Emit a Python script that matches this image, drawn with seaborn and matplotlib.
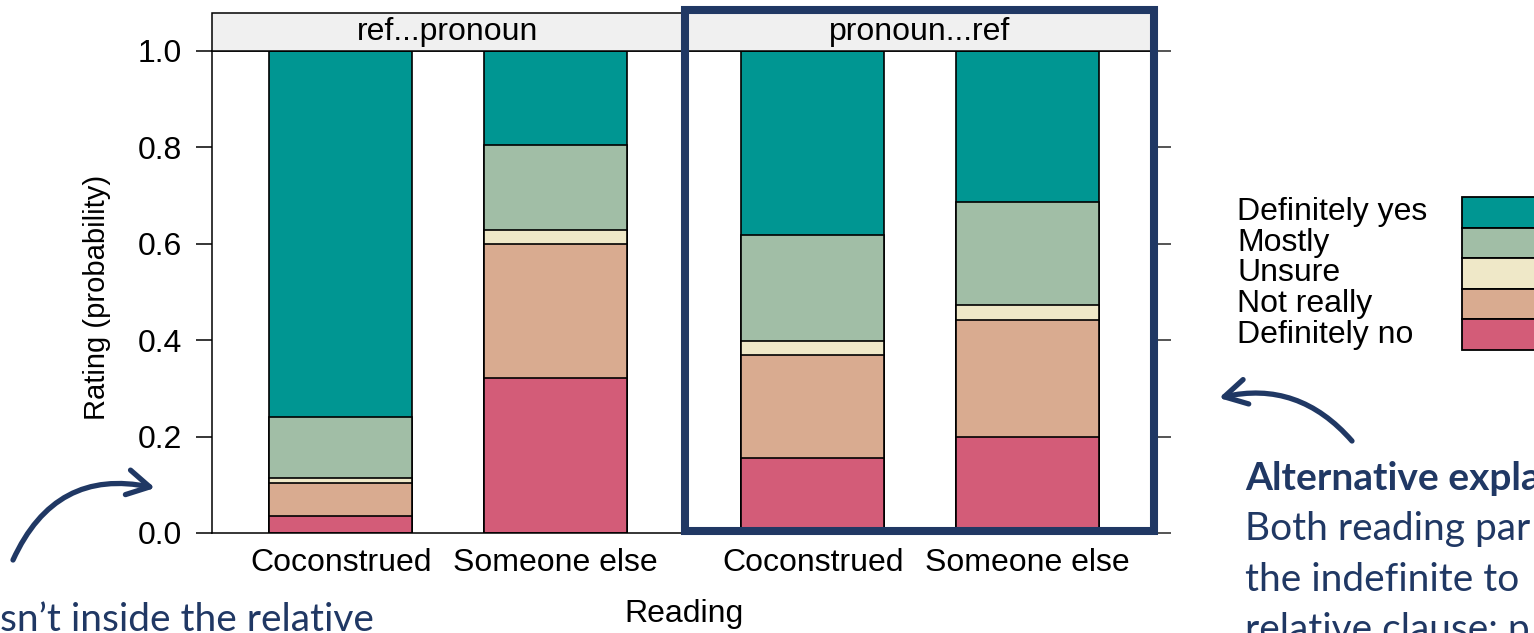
import numpy as np
import pandas as pd
import matplotlib
matplotlib.use("Agg")
import matplotlib.pyplot as plt
from matplotlib.patches import Rectangle, FancyArrowPatch
import seaborn as sns

# ---- data -------------------------------------------------------------
panels = ["ref...pronoun", "pronoun...ref"]
readings = ["Coconstrued", "Someone else"]
levels = ["Definitely no", "Not really", "Unsure", "Mostly", "Definitely yes"]
level_colors = ["#D35C78", "#D9AB90", "#EFE8C8", "#A1BEA6", "#009692"]

# probability of each rating level, bottom (Definitely no) to top (Definitely yes)
ref_pronoun_coconstrued = [0.035, 0.068, 0.012, 0.126, 0.759]
ref_pronoun_someone_else = [0.322, 0.278, 0.029, 0.176, 0.195]
pronoun_ref_coconstrued = [0.155, 0.214, 0.029, 0.220, 0.382]
pronoun_ref_someone_else = [0.200, 0.242, 0.032, 0.213, 0.313]

y_ticks = [0.0, 0.2, 0.4, 0.6, 0.8, 1.0]

# ---- long-form table with cumulative heights for stacking --------------
series = {
    (panels[0], readings[0]): ref_pronoun_coconstrued,
    (panels[0], readings[1]): ref_pronoun_someone_else,
    (panels[1], readings[0]): pronoun_ref_coconstrued,
    (panels[1], readings[1]): pronoun_ref_someone_else,
}
rows = []
for (panel, reading), probs in series.items():
    for lev, p in zip(levels, probs):
        rows.append({"panel": panel, "reading": reading, "level": lev, "prob": p})
df = pd.DataFrame(rows)
df["cum"] = df.groupby(["panel", "reading"])["prob"].cumsum()

# ---- styling ----------------------------------------------------------
sns.set_theme(style="ticks")
plt.rcParams["font.family"] = ["Liberation Sans", "DejaVu Sans"]
plt.rcParams["axes.linewidth"] = 1.1
plt.rcParams["axes.edgecolor"] = "black"

W, H = 1534, 633
fig = plt.figure(figsize=(W / 100, H / 100), dpi=100)
fig.patch.set_facecolor("white")

def fx(px):
    return px / W

def fy(py):
    return 1 - py / H

ax_bottom, ax_top = 533, 51
ax_h = (ax_bottom - ax_top) / H
ax1 = fig.add_axes([fx(212), fy(ax_bottom), (684 - 212) / W, ax_h])
ax2 = fig.add_axes([fx(684), fy(ax_bottom), (1156 - 684) / W, ax_h], sharey=ax1)
axes = [ax1, ax2]

navy = "#203864"
tick_fs = 23

for ax, panel in zip(axes, panels):
    sub = df[df["panel"] == panel]
    # draw from the tallest cumulative layer down so each lower layer overlays
    for lev, col in reversed(list(zip(levels, level_colors))):
        d = sub[sub["level"] == lev]
        sns.barplot(data=d, x="reading", y="cum", order=readings, color=col,
                    saturation=1, width=0.665, edgecolor="black",
                    linewidth=1.2, errorbar=None, ax=ax)
    ax.set_xlim(-0.6, 1.6)
    ax.set_ylim(0, 1)
    ax.set_xlabel("")
    ax.set_ylabel("")
    ax.set_facecolor("white")
    for s in ax.spines.values():
        s.set_visible(True)
        s.set_color("black")
        s.set_linewidth(1.1)
    ax.tick_params(axis="x", length=0, pad=11, labelsize=tick_fs, colors="black")
    # strip header
    strip_h = (ax_top - 13) / (ax_bottom - ax_top)
    ax.add_patch(Rectangle((0, 1), 1, strip_h, transform=ax.transAxes,
                           facecolor="#F0F0F0", edgecolor="black", lw=1.1,
                           clip_on=False, zorder=5))
    ax.text(0.5, 1 + strip_h / 2, panel, transform=ax.transAxes, ha="center",
            va="center", fontsize=tick_fs, color="black", zorder=6)

ax1.set_yticks(y_ticks)
ax1.set_yticklabels([f"{v:.1f}" for v in y_ticks])
ax1.tick_params(axis="y", direction="out", length=11.5, width=1.1, pad=10,
                labelsize=tick_fs, colors="black", left=True, right=False)
ax2.yaxis.tick_right()
ax2.tick_params(axis="y", direction="out", length=10.5, width=1.1,
                labelright=False, labelleft=False, left=False, right=True)

# axis titles
fig.text(fx(97), fy(297), "Rating (probability)", rotation=90, ha="center",
         va="center", fontsize=21, color="black")
fig.text(fx(684), fy(614), "Reading", ha="center", va="center",
         fontsize=tick_fs, color="black")

# legend: labels on the left, colour keys on the right
row_top, row_h = 197, 30.6
for i, (lev, col) in enumerate(reversed(list(zip(levels, level_colors)))):
    y0 = row_top + i * row_h
    fig.text(fx(1237), fy(y0 + row_h / 2), lev, ha="left", va="center",
             fontsize=tick_fs, color="black")
    fig.add_artist(Rectangle((fx(1462), fy(y0 + row_h)), 100 / W, row_h / H,
                             transform=fig.transFigure, facecolor=col,
                             edgecolor="black", lw=1.3, clip_on=False))

# highlight box around the second panel
fig.add_artist(Rectangle((fx(685), fy(530.5)), (1154 - 685) / W, (530.5 - 9.5) / H,
                         transform=fig.transFigure, fill=False, edgecolor=navy,
                         lw=5.8, zorder=10, joinstyle="miter"))

# curved callout arrows
arrow_kw = dict(transform=fig.transFigure, color=navy, lw=3.8,
                arrowstyle="->,head_length=0.8,head_width=0.45",
                mutation_scale=20, shrinkA=0, shrinkB=0, capstyle="round")
fig.add_artist(FancyArrowPatch((fx(13), fy(560)), (fx(155), fy(488)),
                               connectionstyle="arc3,rad=-0.4", **arrow_kw))
fig.add_artist(FancyArrowPatch((fx(1352), fy(441)), (fx(1219), fy(398)),
                               connectionstyle="arc3,rad=0.3", **arrow_kw))

# callout text
note_font = ["Lato", "DejaVu Sans"]
note_fs = 28
fig.text(fx(1245), fy(490), "Alternative expla", ha="left", va="baseline",
         fontsize=note_fs, fontweight="bold", color=navy, family=note_font)
for py, line in [(540, "Both reading par"), (591, "the indefinite to"),
                 (641, "relative clause: p")]:
    fig.text(fx(1245), fy(py), line, ha="left", va="baseline", fontsize=note_fs,
             color=navy, family=note_font)
fig.text(fx(0), fy(631), "sn\u2019t inside the relative", ha="left",
         va="baseline", fontsize=note_fs, color=navy, family=note_font)

fig.savefig("out.png", dpi=100, facecolor="white")
